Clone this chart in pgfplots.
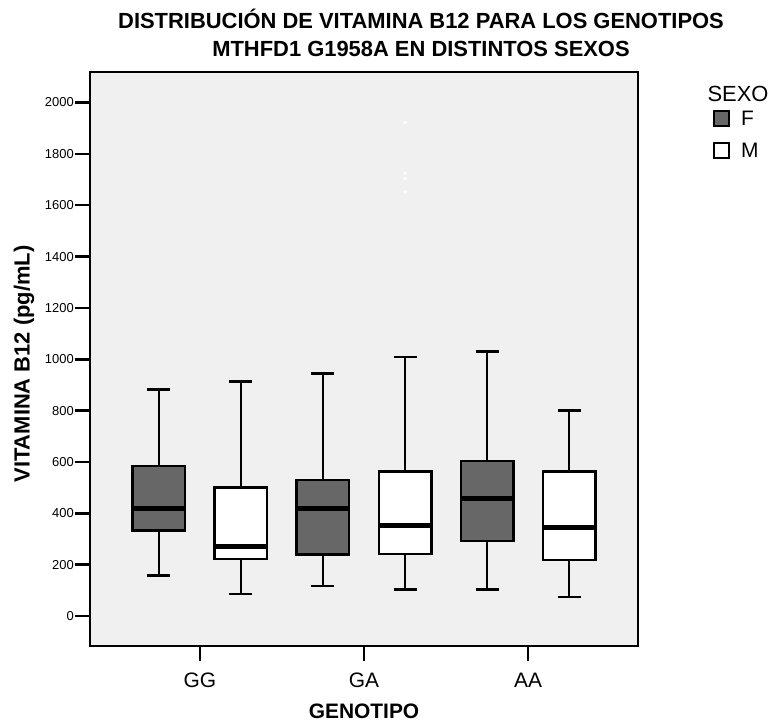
\documentclass[border=0pt]{standalone}
\usepackage{fontspec}
\setmainfont{Liberation Sans}
\usepackage{pgfplots}
\pgfplotsset{compat=1.18}
\definecolor{bg}{HTML}{F0F0F0}
\definecolor{boxdark}{HTML}{676767}
\pgfplotsset{
  whisk/.style={black, line width=2.5bp, forget plot, mark=none},
  boxF/.style={draw=black, fill=boxdark, line width=2.5bp, forget plot, mark=none},
  boxM/.style={draw=black, fill=white, line width=2.5bp, forget plot, mark=none},
  med/.style={black, line width=5bp, forget plot, mark=none},
}
\begin{document}
\begin{tikzpicture}
\useasboundingbox (-90bp,-76bp) rectangle (681bp,646bp);
\begin{axis}[
  at={(0,0)}, anchor=south west,
  scale only axis, width=548bp, height=574bp,
  xmin=0.33, xmax=3.67, ymin=-117, ymax=2119,
  unbounded coords=jump,
  axis background/.style={fill=bg},
  axis line style={line width=2.5bp},
  xtick={1,2,3}, xticklabels={GG,GA,AA},
  ytick={0,200,...,2000},
  tick pos=left, tick align=outside, major tick length=15bp,
  every tick/.style={black, line width=2.5bp},
  /pgf/number format/assume math mode=true,
  /pgf/number format/1000 sep={},
  yticklabel style={font=\fontsize{13}{15}\selectfont, inner sep=1bp},
  xticklabel style={font=\fontsize{21}{25}\selectfont, inner sep=3bp, yshift=-9bp},
  legend style={at={(1,1)}, anchor=north west, xshift=75bp, yshift=-38bp,
    draw=none, fill=none, inner sep=0pt, row sep=15bp, column sep=11bp,
    font=\fontsize{21}{25}\selectfont, nodes={inner sep=0pt}},
  legend cell align=left,
  legend image code/.code={\draw[#1, line width=2bp] (0bp,-7.5bp) rectangle (15bp,7.5bp);},
]
\addlegendimage{draw=black, fill=boxdark}
\addlegendentry{F}
\addlegendimage{draw=black, fill=white}
\addlegendentry{M}

% ---- GG F: lw 157, q1 332, med 417, q3 584, uw 883
\addplot[whisk] coordinates {(0.75,584) (0.75,883) (0.75,nan) (0.68,883) (0.82,883) (0.82,nan)
  (0.75,332) (0.75,157) (0.75,nan) (0.68,157) (0.82,157)};
\addplot[boxF] coordinates {(0.59,332) (0.91,332) (0.91,584) (0.59,584)} -- cycle;
\addplot[med] coordinates {(0.59,417) (0.91,417)};
% ---- GG M: lw 85, q1 221, med 270, q3 500, uw 913
\addplot[whisk] coordinates {(1.25,500) (1.25,913) (1.25,nan) (1.18,913) (1.32,913) (1.32,nan)
  (1.25,221) (1.25,85) (1.25,nan) (1.18,85) (1.32,85)};
\addplot[boxM] coordinates {(1.09,221) (1.41,221) (1.41,500) (1.09,500)} -- cycle;
\addplot[med] coordinates {(1.09,270) (1.41,270)};
% ---- GA F: lw 116, q1 240, med 417, q3 530, uw 945
\addplot[whisk] coordinates {(1.75,530) (1.75,945) (1.75,nan) (1.68,945) (1.82,945) (1.82,nan)
  (1.75,240) (1.75,116) (1.75,nan) (1.68,116) (1.82,116)};
\addplot[boxF] coordinates {(1.59,240) (1.91,240) (1.91,530) (1.59,530)} -- cycle;
\addplot[med] coordinates {(1.59,417) (1.91,417)};
% ---- GA M: lw 104, q1 241, med 354, q3 562, uw 1008
\addplot[whisk] coordinates {(2.25,562) (2.25,1008) (2.25,nan) (2.18,1008) (2.32,1008) (2.32,nan)
  (2.25,241) (2.25,104) (2.25,nan) (2.18,104) (2.32,104)};
\addplot[boxM] coordinates {(2.09,241) (2.41,241) (2.41,562) (2.09,562)} -- cycle;
\addplot[med] coordinates {(2.09,354) (2.41,354)};
\addplot[only marks, mark=*, mark size=1.6bp, draw=white, fill=white, forget plot]
  coordinates {(2.25,1923) (2.25,1725) (2.25,1705) (2.25,1653)};
% ---- AA F: lw 104, q1 292, med 458, q3 604, uw 1030
\addplot[whisk] coordinates {(2.75,604) (2.75,1030) (2.75,nan) (2.68,1030) (2.82,1030) (2.82,nan)
  (2.75,292) (2.75,104) (2.75,nan) (2.68,104) (2.82,104)};
\addplot[boxF] coordinates {(2.59,292) (2.91,292) (2.91,604) (2.59,604)} -- cycle;
\addplot[med] coordinates {(2.59,458) (2.91,458)};
% ---- AA M: lw 73, q1 218, med 344, q3 562, uw 801
\addplot[whisk] coordinates {(3.25,562) (3.25,801) (3.25,nan) (3.18,801) (3.32,801) (3.32,nan)
  (3.25,218) (3.25,73) (3.25,nan) (3.18,73) (3.32,73)};
\addplot[boxM] coordinates {(3.09,218) (3.41,218) (3.41,562) (3.09,562)} -- cycle;
\addplot[med] coordinates {(3.09,344) (3.41,344)};
\end{axis}
\node[anchor=base, font=\fontsize{22}{26}\selectfont\bfseries] at (331bp,617bp)
  {DISTRIBUCIÓN DE VITAMINA B12 PARA LOS  GENOTIPOS};
\node[anchor=base, font=\fontsize{22}{26}\selectfont\bfseries] at (331bp,589bp)
  {MTHFD1 G1958A EN DISTINTOS SEXOS};
\node[rotate=90, font=\fontsize{22}{26}\selectfont\bfseries] at (-66bp,282bp)
  {VITAMINA B12 (pg/mL)};
\node[anchor=base, font=\fontsize{21}{25}\selectfont\bfseries] at (274bp,-72bp)
  {GENOTIPO};
\node[anchor=base west, font=\fontsize{22}{26}\selectfont] at (614bp,544bp) {SEXO};
\end{tikzpicture}
\end{document}
